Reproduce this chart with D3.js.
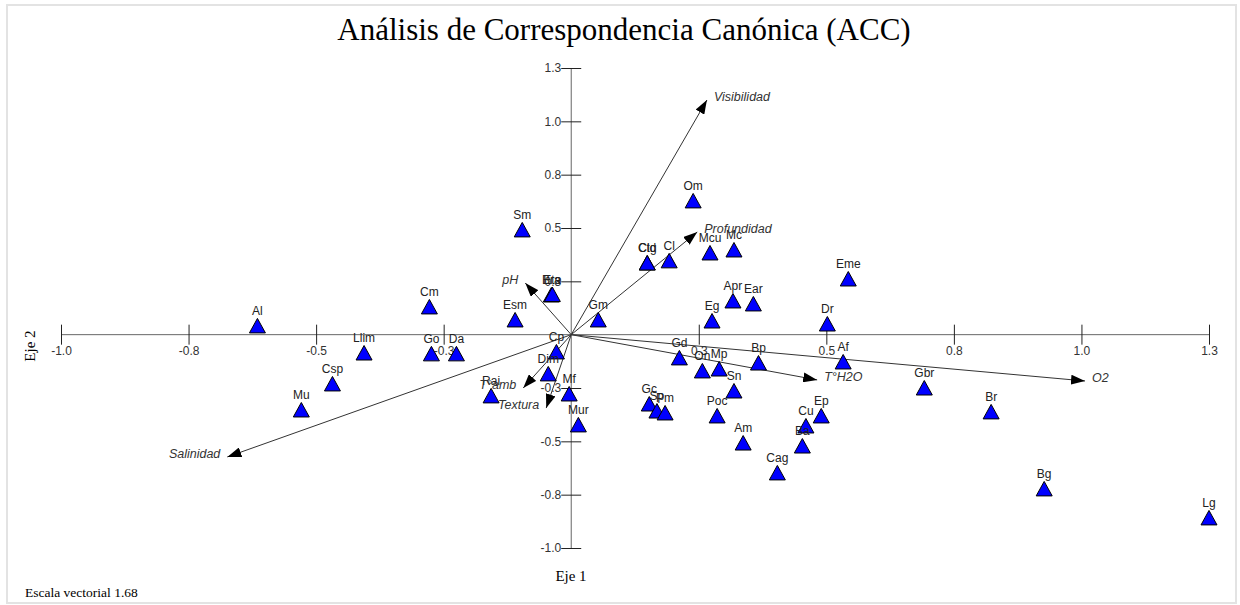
<!DOCTYPE html>
<html>
<head>
<meta charset="utf-8">
<script src="https://cdn.jsdelivr.net/npm/d3@7"></script>
<style>
  body { margin: 0; background: #fff; }
  svg { display: block; }
</style>
</head>
<body>
<svg id="chart"></svg>
<script>
// species scores (Eje 1, Eje 2)
const pointLabels = ['Al', 'Llim', 'Cm', 'Go', 'Da', 'Csp', 'Mu', 'Esm', 'Sm', 'Bra', 'Eto', 'Cp', 'Dim', 'Rai', 'Mf', 'Mur',
  'Gm', 'Om', 'Cld', 'Ctg', 'Cl', 'Mcu', 'Mc', 'Apr', 'Ear', 'Eg', 'Eme', 'Dr', 'Af', 'Gd', 'On', 'Mp', 'Bp', 'Sn',
  'Poc', 'Gc', 'Sp', 'Pm', 'Am', 'Cu', 'Ep', 'Ba', 'Cag', 'Gbr', 'Br', 'Bg', 'Lg'];
const pointX = [-0.615, -0.406, -0.278, -0.274, -0.225, -0.468, -0.529, -0.110, -0.096, -0.039, -0.037, -0.029, -0.045, -0.157, -0.004, 0.014,
  0.053, 0.239, 0.149, 0.149, 0.192, 0.272, 0.319, 0.317, 0.357, 0.276, 0.543, 0.502, 0.533, 0.212, 0.257, 0.290, 0.367, 0.319,
  0.286, 0.153, 0.168, 0.184, 0.337, 0.460, 0.490, 0.453, 0.404, 0.692, 0.823, 0.927, 1.250];
const pointY = [0.041, -0.086, 0.130, -0.090, -0.090, -0.231, -0.353, 0.069, 0.491, 0.186, 0.188, -0.081, -0.184, -0.287, -0.278, -0.423,
  0.069, 0.627, 0.336, 0.336, 0.346, 0.383, 0.397, 0.158, 0.144, 0.064, 0.261, 0.050, -0.128, -0.109, -0.170, -0.161, -0.133, -0.264,
  -0.381, -0.325, -0.358, -0.367, -0.508, -0.428, -0.381, -0.522, -0.648, -0.250, -0.362, -0.723, -0.859];

// environmental vectors
const vectorLabels = ['Visibilidad', 'Profundidad', 'pH', 'T°amb', 'Textura', 'Salinidad', 'T°H2O', 'O2'];
const vectorX = [0.266, 0.247, -0.090, -0.094, -0.049, -0.674, 0.482, 1.007];
const vectorY = [1.100, 0.481, 0.242, -0.250, -0.344, -0.573, -0.212, -0.217];

const xTicks = [-1.0, -0.75, -0.5, -0.25, 0.25, 0.5, 0.75, 1.0, 1.25];
const xTickLabels = ['-1.0', '-0.8', '-0.5', '-0.3', '0.3', '0.5', '0.8', '1.0', '1.3'];
const yTicks = [1.25, 1.0, 0.75, 0.5, 0.25, -0.25, -0.5, -0.75, -1.0];
const yTickLabels = ['1.3', '1.0', '0.8', '0.5', '0.3', '-0.3', '-0.5', '-0.8', '-1.0'];

const width = 1240;
const height = 605;
const sans = 'Liberation Sans, Arial, sans-serif';
const serif = 'Liberation Serif, Times New Roman, serif';

const svg = d3.select('#chart').attr('width', width).attr('height', height);

// outer frame
svg.append('rect')
  .attr('x', 7).attr('y', 5)
  .attr('width', 1229).attr('height', 598)
  .attr('fill', 'none')
  .attr('stroke', '#e3e3e3')
  .attr('stroke-width', 2);

svg.append('text')
  .attr('x', 624).attr('y', 40)
  .attr('text-anchor', 'middle')
  .style('font-family', serif)
  .style('font-size', '31px')
  .style('fill', '#000')
  .text('Análisis de Correspondencia Canónica (ACC)');

const x = d3.scaleLinear().domain([-1, 1.25]).range([61, 1209]);
const y = d3.scaleLinear().domain([-1, 1.25]).range([548, 68]);

// axes through the origin
const xAxis = svg.append('g')
  .attr('transform', `translate(0,${y(0)})`)
  .call(d3.axisBottom(x).tickValues(xTicks).tickFormat((d, i) => xTickLabels[i]).tickSizeOuter(0));
xAxis.select('.domain').attr('d', `M${x(-1)},0H${x(1.25)}`).attr('stroke', '#666');
xAxis.selectAll('.tick line').attr('y1', -10).attr('y2', 10).attr('stroke', '#222');
xAxis.selectAll('.tick text').attr('y', 12).attr('dy', '0.71em')
  .style('font-family', sans).style('font-size', '12px').style('fill', '#333');

const yAxis = svg.append('g')
  .attr('transform', `translate(${x(0)},0)`)
  .call(d3.axisLeft(y).tickValues(yTicks).tickFormat((d, i) => yTickLabels[i]).tickSizeOuter(0));
yAxis.select('.domain').attr('d', `M0,${y(1.25)}V${y(-1)}`).attr('stroke', '#666');
yAxis.selectAll('.tick line').attr('x1', -10).attr('x2', 10).attr('stroke', '#222');
yAxis.selectAll('.tick text').attr('x', -10)
  .style('font-family', sans).style('font-size', '12px').style('fill', '#333');

// arrowhead
svg.append('defs').append('marker')
  .attr('id', 'arrow')
  .attr('viewBox', '0 0 14 10')
  .attr('refX', 14).attr('refY', 5)
  .attr('markerWidth', 14).attr('markerHeight', 10)
  .attr('markerUnits', 'userSpaceOnUse')
  .attr('orient', 'auto')
  .append('path')
  .attr('d', 'M0,0L14,5L0,10Z')
  .attr('fill', '#000');

const vectors = vectorLabels.map((label, i) => ({ label, vx: vectorX[i], vy: vectorY[i] }));

svg.append('g').selectAll('line')
  .data(vectors)
  .enter()
  .append('line')
  .attr('x1', x(0)).attr('y1', y(0))
  .attr('x2', d => x(d.vx)).attr('y2', d => y(d.vy))
  .attr('stroke', '#333')
  .attr('stroke-width', 1)
  .attr('marker-end', 'url(#arrow)');

// species triangles
const points = pointLabels.map((label, i) => ({ label, px: pointX[i], py: pointY[i] }));

const pts = svg.append('g').selectAll('g')
  .data(points)
  .enter()
  .append('g')
  .attr('transform', d => `translate(${x(d.px)},${y(d.py)})`);

pts.append('path')
  .attr('d', 'M0,-7.5L8,7L-8,7Z')
  .attr('fill', '#0000ff')
  .attr('stroke', '#000')
  .attr('stroke-width', 1);

pts.append('text')
  .attr('y', -11)
  .attr('text-anchor', 'middle')
  .style('font-family', sans)
  .style('font-size', '12px')
  .style('fill', '#222')
  .text(d => d.label);

svg.append('g').selectAll('text')
  .data(vectors)
  .enter()
  .append('text')
  .attr('x', d => x(d.vx) + (d.vx > 0 ? 7 : -7))
  .attr('y', d => y(d.vy) + 1)
  .attr('text-anchor', d => d.vx > 0 ? 'start' : 'end')
  .style('font-family', sans)
  .style('font-size', '12.5px')
  .style('font-style', 'italic')
  .style('fill', '#333')
  .text(d => d.label);

svg.append('text')
  .attr('transform', 'translate(35,346) rotate(-90)')
  .attr('text-anchor', 'middle')
  .style('font-family', serif)
  .style('font-size', '15px')
  .text('Eje 2');

svg.append('text')
  .attr('x', 571).attr('y', 581)
  .attr('text-anchor', 'middle')
  .style('font-family', serif)
  .style('font-size', '15px')
  .text('Eje 1');

svg.append('text')
  .attr('x', 25).attr('y', 597)
  .style('font-family', serif)
  .style('font-size', '13.5px')
  .text('Escala vectorial 1.68');
</script>
</body>
</html>
